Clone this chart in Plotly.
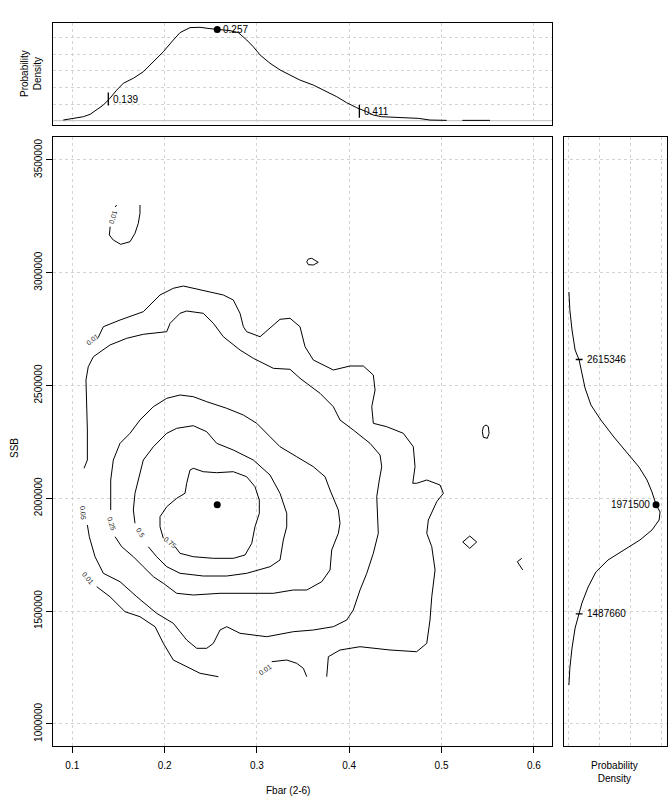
import plotly.graph_objects as go

# ---------------- data ----------------
fbar_ticks = [0.1, 0.2, 0.3, 0.4, 0.5, 0.6]
ssb_ticks = [1000000, 1500000, 2000000, 2500000, 3000000, 3500000]

# marginal density of Fbar (top panel)
fbar_dens_x = [0.0902, 0.1011, 0.1119, 0.1192, 0.1264, 0.1336, 0.1408, 0.1481, 0.1553, 0.1661,
               0.1769, 0.1878, 0.1986, 0.2077, 0.2167, 0.2275, 0.2384, 0.2492, 0.2570, 0.2709,
               0.2798, 0.2889, 0.2961, 0.3034, 0.3142, 0.3250, 0.3359, 0.3467, 0.3611, 0.3756,
               0.3865, 0.3973, 0.4081, 0.4190, 0.4261, 0.4352, 0.4550, 0.4749, 0.4875, 0.5056,
               None, 0.5225, 0.5525]
fbar_dens_y = [0.04, 0.12, 0.24, 0.38, 0.64, 0.94, 1.35, 1.84, 2.25, 2.55,
               2.94, 3.54, 4.14, 4.74, 5.29, 5.59, 5.61, 5.53, 5.48, 5.41,
               5.29, 4.85, 4.44, 3.95, 3.45, 3.05, 2.74, 2.44, 2.14, 1.74,
               1.44, 1.08, 0.78, 0.54, 0.34, 0.24, 0.20, 0.14, 0.04, 0.02,
               None, 0.02, 0.02]

# marginal density of SSB (right panel), SSB in millions
ssb_dens_ssb_m = [2.9145, 2.8347, 2.7461, 2.6574, 2.6130, 2.5598, 2.4889, 2.4136, 2.3471, 2.2717,
                  2.2008, 2.1387, 2.0811, 2.0279, 1.9716, 1.9393, 1.9038, 1.8595, 1.8152, 1.7708,
                  1.7265, 1.6733, 1.6068, 1.5359, 1.4876, 1.4251, 1.3364, 1.2478, 1.1724]
ssb_dens_d = [0.02, 0.05, 0.12, 0.22, 0.35, 0.44, 0.54, 0.73, 1.05, 1.47,
              1.89, 2.28, 2.54, 2.70, 2.83, 2.96, 2.93, 2.70, 2.31, 1.80,
              1.28, 0.89, 0.64, 0.44, 0.35, 0.22, 0.12, 0.05, 0.02]

fbar_median = 0.257
fbar_median_dens = 5.48
fbar_quant = [0.139, 0.411]
fbar_quant_dens = [1.30, 0.57]

ssb_median = 1971500
ssb_median_dens = 2.83
ssb_quant = [2615346, 1487660]
ssb_quant_dens = [0.35, 0.35]

# contour lines (Fbar, SSB in millions), one entry per drawn segment
contour_segments = [
    # 0.01
    ([0.1282, 0.1336, 0.1517, 0.1769, 0.1950, 0.2094, 0.2203, 0.2384, 0.2636, 0.2744, 0.2817, 0.2853,
      0.2889, 0.3034, 0.3178, 0.3250, 0.3359, 0.3467, 0.3521, 0.3611, 0.3828, 0.4009, 0.4153, 0.4261,
      0.4280, 0.4244, 0.4261, 0.4406, 0.4586, 0.4694, 0.4713, 0.4688, 0.4731, 0.4840, 0.4984, 0.5020,
      0.4948, 0.4857, 0.4840, 0.4894, 0.4930, 0.4894, 0.4875, 0.4840, 0.4731, 0.4442, 0.4117, 0.3900,
      0.3774, 0.3756],
     [2.7137, 2.7606, 2.7903, 2.8271, 2.9012, 2.9309, 2.9410, 2.9233, 2.9012, 2.8790, 2.8200, 2.7606,
      2.7385, 2.7163, 2.7682, 2.7934, 2.7979, 2.7606, 2.6720, 2.6130, 2.5687, 2.5864, 2.5864, 2.5465,
      2.4801, 2.4060, 2.3324, 2.3174, 2.2881, 2.2287, 2.1401, 2.0665, 2.0665, 2.0811, 2.0590, 2.0222,
      1.9849, 1.9038, 1.8449, 1.7855, 1.6822, 1.5638, 1.4606, 1.3573, 1.3200, 1.3276, 1.3422, 1.3276,
      1.2979, 1.2092]),
    ([0.1264, 0.1408, 0.1571, 0.1733, 0.1896, 0.1986, 0.2094, 0.2239, 0.2384, 0.2582],
     [1.6082, 1.5638, 1.4973, 1.4752, 1.4309, 1.3573, 1.2832, 1.2535, 1.2243, 1.2092]),
    ([0.3160, 0.3323, 0.3431, 0.3503, 0.3540],
     [1.2757, 1.2832, 1.2686, 1.2465, 1.2092]),
    ([0.1410, 0.1401, 0.1444, 0.1524, 0.1625, 0.1679, 0.1715, 0.1733, 0.1733],
     [3.2039, 3.1671, 3.1449, 3.1259, 3.1374, 3.1746, 3.2190, 3.2633, 3.3001]),
    ([0.1463, 0.1481], [3.2913, 3.3001]),
    ([0.3540, 0.3557, 0.3594, 0.3665, 0.3611, 0.3557, 0.3540],
     [3.0488, 3.0607, 3.0638, 3.0461, 3.0342, 3.0355, 3.0488]),
    ([0.5453, 0.5482, 0.5507, 0.5515, 0.5496, 0.5453, 0.5442, 0.5453],
     [2.3174, 2.3249, 2.3174, 2.2881, 2.2660, 2.2704, 2.2952, 2.3174]),
    ([0.5230, 0.5306, 0.5381, 0.5306, 0.5230],
     [1.8063, 1.8329, 1.8063, 1.7784, 1.8063]),
    ([0.5869, 0.5821, 0.5880], [1.7340, 1.7190, 1.6822]),
    # 0.05
    ([0.1127, 0.1163, 0.1163, 0.1148, 0.1173, 0.1228, 0.1408, 0.1589, 0.1769, 0.2023, 0.2059, 0.2167,
      0.2239, 0.2419, 0.2528, 0.2636, 0.2817, 0.2961, 0.3178, 0.3359, 0.3467, 0.3684, 0.3828, 0.3900,
      0.4044, 0.4225, 0.4334, 0.4352, 0.4326, 0.4298, 0.4315, 0.4261, 0.4190, 0.4117, 0.4044, 0.3973,
      0.3828, 0.3611, 0.3394, 0.3106, 0.2817, 0.2673, 0.2600, 0.2528, 0.2456, 0.2348, 0.2239, 0.2094,
      0.1914, 0.1698, 0.1517, 0.1336, 0.1246, 0.1184, 0.1163],
     [2.1330, 2.1698, 2.3027, 2.5244, 2.5833, 2.6277, 2.6795, 2.7092, 2.7270, 2.7385, 2.7757, 2.8200,
      2.8302, 2.8200, 2.7757, 2.7163, 2.6574, 2.6206, 2.5762, 2.5718, 2.5319, 2.4654, 2.4060, 2.3471,
      2.3027, 2.2438, 2.1919, 2.1401, 2.0811, 2.0071, 1.8449, 1.7562, 1.6676, 1.5935, 1.5049, 1.4606,
      1.4309, 1.4162, 1.4087, 1.3865, 1.4016, 1.4309, 1.4162, 1.3573, 1.3351, 1.3351, 1.3719, 1.4459,
      1.4902, 1.5638, 1.6303, 1.6676, 1.7411, 1.8298, 1.8816]),
    # 0.25
    ([0.1416, 0.1416, 0.1444, 0.1517, 0.1625, 0.1733, 0.1878, 0.2023, 0.2167, 0.2311, 0.2456, 0.2673,
      0.2853, 0.2998, 0.3142, 0.3250, 0.3431, 0.3611, 0.3738, 0.3792, 0.3882, 0.3900, 0.3882, 0.3810,
      0.3792, 0.3702, 0.3540, 0.3394, 0.3178, 0.2889, 0.2600, 0.2311, 0.2131, 0.1986, 0.1878, 0.1769,
      0.1661, 0.1535, 0.1463],
     [1.9481, 2.0811, 2.1698, 2.2438, 2.2881, 2.3471, 2.4060, 2.4433, 2.4579, 2.4504, 2.4282, 2.3989,
      2.3692, 2.3324, 2.2730, 2.2287, 2.1844, 2.1401, 2.0957, 2.0368, 1.9481, 1.8892, 1.8449, 1.7708,
      1.6822, 1.6303, 1.5935, 1.5935, 1.5789, 1.5789, 1.5789, 1.5714, 1.5789, 1.6232, 1.6525, 1.6968,
      1.7411, 1.7855, 1.8298]),
    # 0.5
    ([0.1679, 0.1661, 0.1679, 0.1733, 0.1769, 0.1878, 0.2023, 0.2131, 0.2311, 0.2456, 0.2564, 0.2744,
      0.2961, 0.3142, 0.3250, 0.3323, 0.3323, 0.3286, 0.3250, 0.3142, 0.2889, 0.2673, 0.2419, 0.2167,
      0.2023, 0.1914, 0.1823],
     [1.8892, 1.9481, 2.0222, 2.1108, 2.1698, 2.2287, 2.2881, 2.3103, 2.3218, 2.2952, 2.2438, 2.2141,
      2.1698, 2.1033, 2.0222, 1.9335, 1.8741, 1.8152, 1.7265, 1.6968, 1.6676, 1.6556, 1.6556, 1.6676,
      1.6968, 1.7411, 1.7855]),
    # 0.75
    ([0.1986, 0.1950, 0.1950, 0.2023, 0.2131, 0.2221, 0.2239, 0.2275, 0.2311, 0.2419, 0.2564, 0.2744,
      0.2889, 0.2979, 0.3026, 0.3026, 0.2979, 0.2944, 0.2871, 0.2744, 0.2528, 0.2311, 0.2167, 0.2113],
     [1.8227, 1.8741, 1.9184, 1.9628, 2.0000, 2.0222, 2.0665, 2.1254, 2.1330, 2.1179, 2.1135, 2.1179,
      2.0957, 2.0514, 1.9925, 1.9335, 1.8741, 1.8005, 1.7487, 1.7340, 1.7340, 1.7411, 1.7562, 1.7855]),
]

# contour labels: text, Fbar, SSB (millions), angle
contour_labels = [
    ("0.01", 0.1221, 2.7017, -38),
    ("0.01", 0.1444, 3.2482, -75),
    ("0.05", 0.1119, 1.9335, 85),
    ("0.01", 0.1173, 1.6454, 50),
    ("0.25", 0.1419, 1.8861, 72),
    ("0.5", 0.1733, 1.8462, 58),
    ("0.75", 0.2059, 1.8019, 40),
    ("0.01", 0.3088, 1.2434, -35),
]

# ---------------- figure ----------------
FONT = "Liberation Sans, Arial, sans-serif"
W, H = 672, 800
line_kw = dict(color="black", width=1)
fig = go.Figure()

for fx, fs in contour_segments:
    fig.add_trace(go.Scatter(x=fx, y=[v * 1e6 for v in fs], mode="lines", line=line_kw,
                             xaxis="x", yaxis="y", hoverinfo="skip"))
fig.add_trace(go.Scatter(x=[fbar_median], y=[ssb_median], mode="markers",
                         marker=dict(color="black", size=7), xaxis="x", yaxis="y"))

# top density
fig.add_trace(go.Scatter(x=fbar_dens_x, y=fbar_dens_y, mode="lines", line=line_kw,
                         connectgaps=False, xaxis="x2", yaxis="y2"))
for q, d in zip(fbar_quant, fbar_quant_dens):
    fig.add_trace(go.Scatter(x=[q, q], y=[d - 0.39, d + 0.39], mode="lines",
                             line=dict(color="black", width=1.3), xaxis="x2", yaxis="y2"))
fig.add_trace(go.Scatter(x=[fbar_median], y=[fbar_median_dens], mode="markers",
                         marker=dict(color="black", size=7), xaxis="x2", yaxis="y2"))

# right density
fig.add_trace(go.Scatter(x=ssb_dens_d, y=[v * 1e6 for v in ssb_dens_ssb_m], mode="lines",
                         line=line_kw, xaxis="x3", yaxis="y3"))
for q, d in zip(ssb_quant, ssb_quant_dens):
    fig.add_trace(go.Scatter(x=[d - 0.11, d + 0.11], y=[q, q], mode="lines",
                             line=dict(color="black", width=1.3), xaxis="x3", yaxis="y3"))
fig.add_trace(go.Scatter(x=[ssb_median_dens], y=[ssb_median], mode="markers",
                         marker=dict(color="black", size=7), xaxis="x3", yaxis="y3"))

frame = dict(showline=True, mirror=True, linecolor="black", linewidth=1, zeroline=False,
             showgrid=True, gridcolor="#d3d3d3", griddash="3px,3px", gridwidth=1)

x_dom = [53.3 / W, 552.3 / W]
y_dom = [(H - 745.7) / H, (H - 137.3) / H]
x_rng = [0.0794, 0.6200]
y_rng = [903400, 3600200]

fig.update_layout(
    width=W, height=H, margin=dict(l=0, r=0, t=0, b=0),
    paper_bgcolor="white", plot_bgcolor="white", showlegend=False,
    font=dict(family=FONT, size=10, color="black"),
    xaxis=dict(domain=x_dom, range=x_rng, tickvals=fbar_ticks,
               ticktext=[f"{v:.1f}" for v in fbar_ticks], ticks="outside", ticklen=6,
               tickcolor="black", ticklabelstandoff=4, anchor="y", **frame),
    yaxis=dict(domain=y_dom, range=y_rng, tickvals=ssb_ticks,
               ticktext=[str(v) for v in ssb_ticks], tickangle=-90, ticks="outside", ticklen=6,
               tickcolor="black", anchor="x", **frame),
    xaxis2=dict(domain=x_dom, range=x_rng, tickvals=fbar_ticks, showticklabels=False,
                ticks="", anchor="y2", **frame),
    yaxis2=dict(domain=[(H - 125) / H, (H - 23.3) / H], range=[-0.258, 5.85],
                tickvals=[1, 2, 3, 4, 5], showticklabels=False, ticks="", anchor="x2", **frame),
    xaxis3=dict(domain=[564.3 / W, 666.7 / W], range=[-0.129, 3.174], tickvals=[0, 1, 2, 3],
                showticklabels=False, ticks="", anchor="y3", **frame),
    yaxis3=dict(domain=y_dom, range=y_rng, tickvals=ssb_ticks, showticklabels=False,
                ticks="", anchor="x3", **frame),
)

# baseline of the Fbar density
fig.add_shape(type="line", xref="x2 domain", yref="y2", x0=0, x1=1, y0=0, y1=0,
              line=dict(color="#bdbdbd", width=1), layer="below")

ann = []
for txt, fx, fs, ang in contour_labels:
    ann.append(dict(text=txt, x=fx, y=fs * 1e6, xref="x", yref="y", showarrow=False,
                    textangle=ang, xanchor="center", yanchor="middle",
                    font=dict(size=7, color="#222")))
ann.append(dict(text=f"{fbar_median:.3f}", x=fbar_median, y=fbar_median_dens, xref="x2", yref="y2",
                showarrow=False, xanchor="left", yanchor="middle", xshift=4))
for q, d in zip(fbar_quant, fbar_quant_dens):
    ann.append(dict(text=f"{q:.3f}", x=q, y=d, xref="x2", yref="y2", showarrow=False,
                    xanchor="left", yanchor="middle", xshift=3))
ann.append(dict(text=str(ssb_median), x=ssb_median_dens, y=ssb_median, xref="x3", yref="y3",
                showarrow=False, xanchor="right", yanchor="middle", xshift=-4))
for q, d in zip(ssb_quant, ssb_quant_dens):
    ann.append(dict(text=str(q), x=d, y=q, xref="x3", yref="y3", showarrow=False,
                    xanchor="left", yanchor="middle", xshift=6))
title_kw = dict(xref="paper", yref="paper", showarrow=False, xanchor="center", yanchor="middle")
ann += [
    dict(text="Fbar (2-6)", x=288 / W, y=(H - 790) / H, **title_kw),
    dict(text="SSB", x=14 / W, y=(H - 448) / H, textangle=-90, **title_kw),
    dict(text="Probability<br>Density", x=31 / W, y=(H - 74) / H, textangle=-90, **title_kw),
    dict(text="Probability<br>Density", x=614 / W, y=(H - 772) / H, **title_kw),
]
fig.update_layout(annotations=ann)

fig.write_html("out.html")
